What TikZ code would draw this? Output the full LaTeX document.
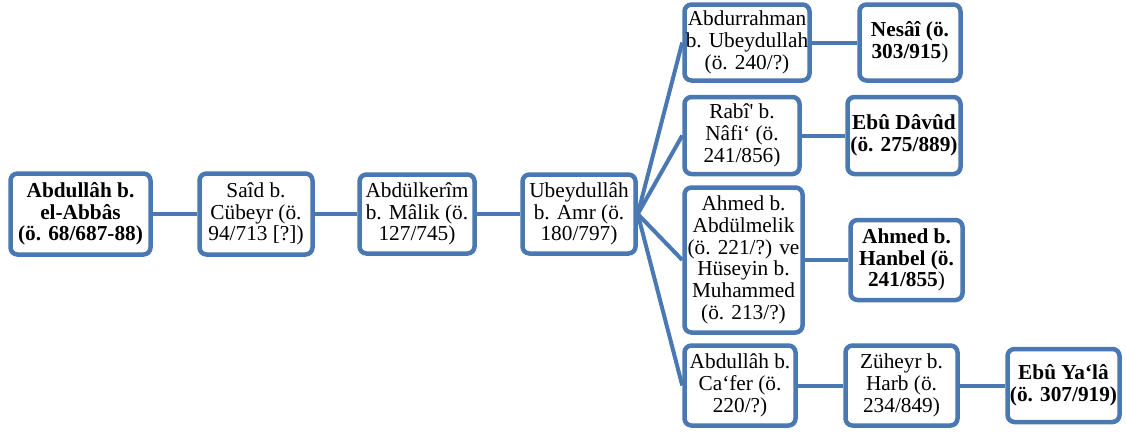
\documentclass[tikz,border=0pt]{standalone}
\usepackage{fontspec}
\setmainfont{Liberation Serif}
\newfontfamily\duzfont{Liberation Serif}[Ligatures=TeXOff]
\usetikzlibrary{backgrounds}
\definecolor{isnadblue}{HTML}{4A78B2}
\tikzset{
  kisi/.style={draw=isnadblue, line width=4.5pt, rounded corners=7pt, fill=white,
    align=center, inner sep=0pt, font=\fontsize{21.3}{21.7}\selectfont},
  bag/.style={draw=isnadblue, line width=4pt},
}

\begin{document}
\begin{tikzpicture}[x=1pt, y=-1pt]
  \useasboundingbox (0,0) rectangle (1126,434);
  % Ana zincir
  \node[kisi, minimum width=140pt, minimum height=81pt] (abbas) at (80.5,214)
    {\textbf{Abdullâh b.}\\\textbf{el-Abbâs}\\\textbf{(ö. 68/687-88)}};
  \node[kisi, minimum width=113pt, minimum height=81pt] (said) at (256,214)
    {Saîd b.\\Cübeyr (ö.\\94/713 [?])};
  \node[kisi, minimum width=115pt, minimum height=79pt] (kerim) at (417,214)
    {Abdülkerîm\\b. Mâlik (ö.\\127/745)};
  \node[kisi, minimum width=113pt, minimum height=79pt] (ubeyd) at (579,214)
    {Ubeydullâh\\b. Amr (ö.\\180/797)};
  % Dallar
  \node[kisi, minimum width=125pt, minimum height=76pt] (abdurrahman) at (747,42.5)
    {Abdurrahman\\b. Ubeydullah\\(ö. 240/?)};
  \node[kisi, minimum width=115pt, minimum height=77pt] (rabi) at (742,135.5)
    {Rabî{\duzfont '} b.\\Nâfi‘ (ö.\\241/856)};
  \node[kisi, minimum width=118pt, minimum height=145pt] (ahmed) at (743.5,260)
    {Ahmed b.\\Abdülmelik\\(ö. 221/?) ve\\Hüseyin b.\\Muhammed\\(ö. 213/?)};
  \node[kisi, minimum width=111pt, minimum height=80pt] (cafer) at (740,385.5)
    {Abdullâh b.\\Ca‘fer (ö.\\220/?)};
  % Musannifler
  \node[kisi, minimum width=101pt, minimum height=76pt] (nesai) at (910,42.5)
    {\textbf{Nesâî (ö.}\\\textbf{303/915})};
  \node[kisi, minimum width=113pt, minimum height=77pt] (davud) at (904,135.5)
    {\textbf{Ebû Dâvûd}\\\textbf{(ö. 275/889)}};
  \node[kisi, minimum width=112pt, minimum height=80pt] (hanbel) at (906.5,260)
    {\textbf{Ahmed b.}\\\textbf{Hanbel (ö.}\\\textbf{241/855})};
  \node[kisi, minimum width=112pt, minimum height=80pt] (zuheyr) at (901.5,385.5)
    {Züheyr b.\\Harb (ö.\\234/849)};
  \node[kisi, minimum width=112pt, minimum height=73pt] (yala) at (1063.5,385.5)
    {\textbf{Ebû Ya‘lâ}\\\textbf{(ö. 307/919)}};
  % Baglantilar
  \begin{scope}[on background layer]
    \draw[bag] (abbas) -- (said) -- (kerim) -- (ubeyd);
    \foreach \n in {abdurrahman, rabi, ahmed, cafer}
      \draw[bag] (ubeyd.east) -- (\n.west);
    \draw[bag] (abdurrahman) -- (nesai);
    \draw[bag] (rabi) -- (davud);
    \draw[bag] (ahmed) -- (hanbel);
    \draw[bag] (cafer) -- (zuheyr) -- (yala);
  \end{scope}
\end{tikzpicture}
\end{document}
